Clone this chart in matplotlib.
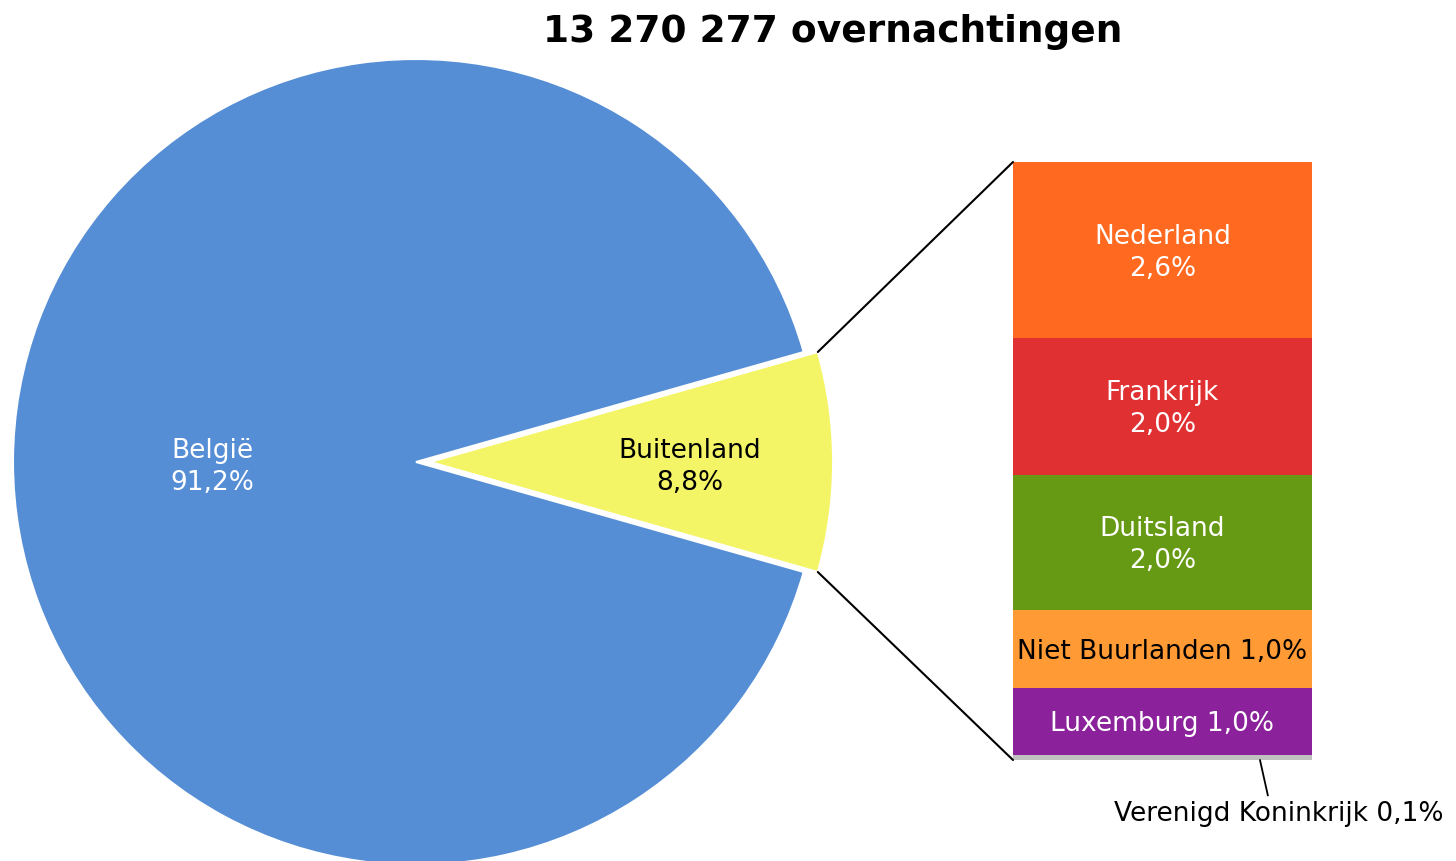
import numpy as np
import matplotlib
matplotlib.use("Agg")
import matplotlib.pyplot as plt
from matplotlib.patches import ConnectionPatch

plt.rcParams['font.family'] = ['DejaVu Sans']

# pie: share of overnight stays
pie_labels = ["Buitenland", "België"]
pie_values = [8.8, 91.2]
pie_text = ["Buitenland\n8,8%", "België\n91,2%"]
pie_colors = ["#f4f566", "#558ed5"]
pie_txtcol = ["black", "white"]

# bar: breakdown of Buitenland (top to bottom)
bar_labels = ["Nederland", "Frankrijk", "Duitsland", "Niet Buurlanden",
              "Luxemburg", "Verenigd Koninkrijk"]
bar_values = [2.59, 2.02, 1.99, 1.15, 0.99, 0.07]
bar_text = ["Nederland\n2,6%", "Frankrijk\n2,0%", "Duitsland\n2,0%",
            "Niet Buurlanden 1,0%", "Luxemburg 1,0%", ""]
bar_colors = ["#ff6920", "#e03032", "#669a14", "#ff9a35", "#8b229b", "#c0c0c0"]
bar_txtcol = ["white", "white", "white", "black", "white", "white"]

W, H = 1456, 861
fig = plt.figure(figsize=(W / 100, H / 100), dpi=100)
fs = 19

# pie axes, centre (416, 462) px from top, radius 403 px
r_px = 403
cx, cy = 416, 462
ax1 = fig.add_axes([(cx - r_px) / W, (H - cy - r_px) / H, 2 * r_px / W, 2 * r_px / H])
explode = [0.035, 0]
start = -pie_values[0] / 100 * 360 / 2
wedges, _ = ax1.pie(pie_values, colors=pie_colors, explode=explode, startangle=start,
                    radius=1, wedgeprops=dict(edgecolor="white", linewidth=1.5))
ax1.set_xlim(-1, 1)
ax1.set_ylim(-1, 1)
ax1.axis("off")

label_dist = [0.645, 0.505]
for w, txt, col, d, ex in zip(wedges, pie_text, pie_txtcol, label_dist, explode):
    ang = np.deg2rad((w.theta1 + w.theta2) / 2)
    ax1.text((d + ex) * np.cos(ang), (d + ex) * np.sin(ang) - 0.012, txt,
             ha="center", va="center", color=col, fontsize=fs, linespacing=1.3)

# bar axes
bl, br, bt, bb = 1013, 1312, 162, 760
ax2 = fig.add_axes([bl / W, (H - bb) / H, (br - bl) / W, (bb - bt) / H])
total = sum(bar_values)
bottom = total
for val, col, txt, tcol in zip(bar_values, bar_colors, bar_text, bar_txtcol):
    bottom -= val
    ax2.bar(0, val, width=1, bottom=bottom, color=col, edgecolor="none")
    if txt:
        ax2.text(0, bottom + val / 2 - 0.04, txt, ha="center", va="center", color=tcol,
                 fontsize=fs, linespacing=1.3)
ax2.set_xlim(-0.5, 0.5)
ax2.set_ylim(0, total)
ax2.axis("off")

# connector lines from the Buitenland wedge to the bar
w = wedges[0]
for theta, ybar in [(w.theta2, total), (w.theta1, 0)]:
    t = np.deg2rad(theta)
    x = w.r * np.cos(t) + explode[0]
    y = w.r * np.sin(t)
    con = ConnectionPatch(xyA=(-0.5, ybar), coordsA=ax2.transData,
                          xyB=(x, y), coordsB=ax1.transData,
                          color="black", linewidth=1.5)
    fig.add_artist(con)

# small slice label
ax2.annotate("Verenigd Koninkrijk 0,1%", xy=(0.326, 0), xycoords="data",
             xytext=(1279, H - 814), textcoords="figure pixels",
             ha="center", va="center", fontsize=fs,
             arrowprops=dict(arrowstyle="-", color="black", lw=1.3,
                             relpos=(0.47, 1.0), shrinkA=2, shrinkB=0),
             annotation_clip=False)

fig.text(833 / W, 1 - 32 / H, "13 270 277 overnachtingen", ha="center", va="center",
         fontsize=27, fontweight="bold")

fig.savefig("out.png", dpi=100)
